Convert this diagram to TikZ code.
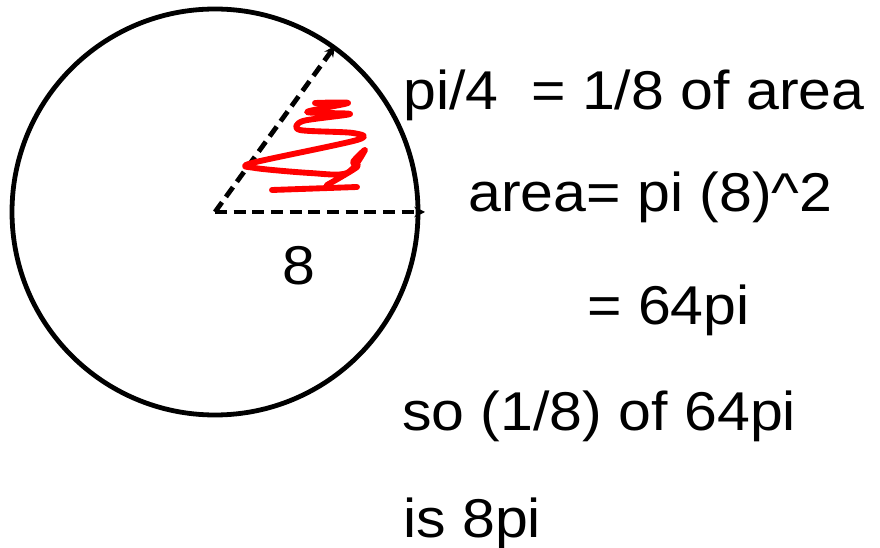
\documentclass[tikz,border=0pt]{standalone}
\usepackage{fontspec}
\setmainfont{Liberation Sans}[FakeStretch=1.08]
\usetikzlibrary{arrows.meta}

\begin{document}
\begin{tikzpicture}[x=0.75pt,y=-0.75pt,
  radius line/.style={line width=3.6pt,dash pattern=on 9pt off 5pt,-{Stealth[length=8pt,width=8pt]}},
  mathtext/.style={anchor=base west,inner sep=0pt,font=\fontsize{41}{48}\selectfont}]
\useasboundingbox (0,0) rectangle (880,548);

% circle
\coordinate (O) at (215,212);
\draw[line width=3.6pt] (O) circle[radius=203];

% radii
\coordinate (A) at (425,212);
\coordinate (B) at (335,46);
\draw[radius line] (O) -- (A);
\draw[radius line] (O) -- (B);
\node[mathtext] (r) at (282,285) {8};

% red scribble
\draw[red,line width=4.4pt,line cap=round,line join=round]
  plot[smooth,tension=0.5] coordinates {(315,103) (348,103) (307,112) (350,114) (303,121) (300,130)
  (353,133) (357,140) (252,163) (255,168) (310,173) (347,173) (365,150) (353,162) (357,167) (327,185)};
\draw[red,line width=4.4pt,line cap=round] (272,190) -- (357,187);

% text
\node[mathtext] (t1) at (403,110) {pi/4\ \ = 1/8 of area};
\node[mathtext] (t2) at (468,212) {area= pi (8)\^{}2};
\node[mathtext] (t3) at (587,325) {= 64pi};
\node[mathtext] (t4) at (402,430) {so (1/8) of 64pi};
\node[mathtext] (t5) at (403,537) {is 8pi};

\end{tikzpicture}
\end{document}
